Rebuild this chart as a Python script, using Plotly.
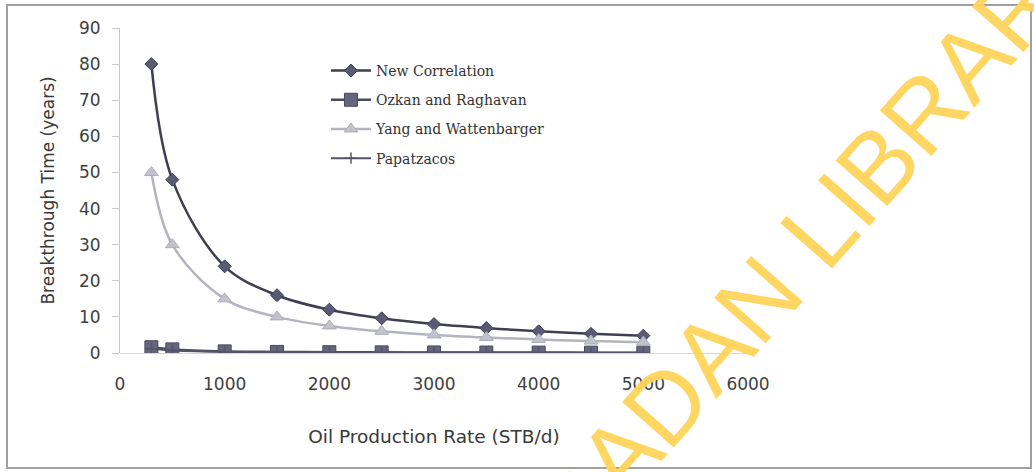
import plotly.graph_objects as go

rates = [300, 500, 1000, 1500, 2000, 2500, 3000, 3500, 4000, 4500, 5000]
new_corr = [80, 48, 24, 16, 12, 9.6, 8, 6.9, 6, 5.3, 4.8]
ozkan = [1.6, 1.0, 0.45, 0.3, 0.22, 0.18, 0.15, 0.13, 0.11, 0.1, 0.09]
yang = [50, 30, 15, 10, 7.5, 6, 5, 4.3, 3.75, 3.3, 3]
papatzacos = [1.2, 0.7, 0.35, 0.23, 0.17, 0.14, 0.12, 0.1, 0.09, 0.08, 0.07]

x_ticks = [0, 1000, 2000, 3000, 4000, 5000, 6000]
y_ticks = [0, 10, 20, 30, 40, 50, 60, 70, 80, 90]

fig = go.Figure()
fig.add_trace(go.Scatter(x=rates, y=new_corr, name="New Correlation", mode="lines+markers",
                         line=dict(color="#3e3e55", width=2.5, shape="spline"),
                         marker=dict(symbol="diamond", size=10, color="#5a5a75",
                                     line=dict(color="#3e3e55", width=1)),
                         legendgroup="a"))
fig.add_trace(go.Scatter(x=rates, y=ozkan, name="Ozkan and Raghavan", mode="lines+markers",
                         line=dict(color="#4a4a5e", width=2.5, shape="spline"),
                         marker=dict(symbol="square", size=13, color="#65657e",
                                     line=dict(color="#4a4a5e", width=1)),
                         legendgroup="b"))
fig.add_trace(go.Scatter(x=rates, y=yang, name="Yang and Wattenbarger", mode="lines+markers",
                         line=dict(color="#b4b4c0", width=2.5, shape="spline"),
                         marker=dict(symbol="triangle-up", size=12, color="#c2c2cc",
                                     line=dict(color="#aeaeba", width=1)),
                         legendgroup="c"))
fig.add_trace(go.Scatter(x=rates, y=papatzacos, name="Papatzacos", mode="lines+markers",
                         line=dict(color="#55556a", width=2, shape="spline"),
                         marker=dict(symbol="cross-thin", size=8,
                                     line=dict(color="#55556a", width=1.5)),
                         legendgroup="d"))

watermark = "UNIVERSITY OF IBADAN LIBRARY"

fig.update_layout(
    width=1034, height=472,
    margin=dict(l=120, r=286, t=28, b=119),
    paper_bgcolor="white", plot_bgcolor="white",
    font=dict(family="DejaVu Sans, sans-serif", color="#404040"),
    showlegend=True,
    legend=dict(x=0.328, y=0.917, xanchor="left", yanchor="top",
                bgcolor="rgba(0,0,0,0)", tracegroupgap=8,
                font=dict(family="DejaVu Serif, serif", size=14, color="#333"),
                itemwidth=40),
    xaxis=dict(range=[0, 6000], tickvals=x_ticks, ticks="", showgrid=False,
               zeroline=False, showline=False, ticklabelstandoff=19,
               tickfont=dict(size=17, color="#404040"),
               title=dict(text="Oil Production Rate (STB/d)", standoff=37,
                          font=dict(size=18.5, color="#383838"))),
    yaxis=dict(range=[0, 90], tickvals=y_ticks, ticks="outside", ticklen=7,
               tickcolor="#c8c8c8", showgrid=False, zeroline=True,
               zerolinecolor="#d8d8d8", zerolinewidth=1, ticklabelstandoff=8,
               showline=True, linecolor="#c8c8c8", linewidth=1,
               tickfont=dict(size=17, color="#404040"),
               title=dict(text="Breakthrough Time (years)", standoff=20,
                          font=dict(size=17, color="#383838"))),
    shapes=[dict(type="rect", xref="paper", yref="paper",
                 x0=(7 - 120) / 628, x1=(1031 - 120) / 628,
                 y0=(353 - 468) / 325, y1=1 + 23 / 325,
                 line=dict(color="#a0a0a0", width=2), layer="below")],
    annotations=[dict(text=watermark, xref="paper", yref="paper",
                      x=(546 - 120) / 628, y=(353 - 539) / 325,
                      xanchor="center", yanchor="middle",
                      showarrow=False, textangle=-48.5,
                      font=dict(family="Liberation Sans, Arial, sans-serif",
                                size=100, color="rgba(255,212,90,0.95)"))],
)

fig.write_html("out.html", post_script="document.body.style.margin='0';",
               config={"displayModeBar": False})
